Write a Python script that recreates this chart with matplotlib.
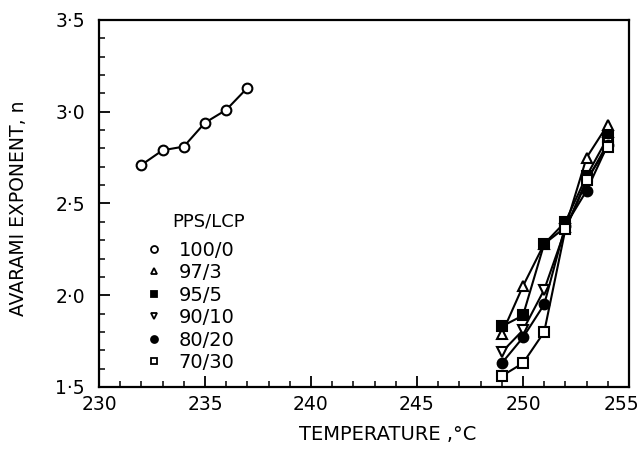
import matplotlib
matplotlib.use("Agg")
import matplotlib.pyplot as plt
from matplotlib.ticker import MultipleLocator, FuncFormatter
from matplotlib.lines import Line2D
from matplotlib.transforms import ScaledTranslation

# ---- data ----
temp_pure = [232, 233, 234, 235, 236, 237]
n_100_0 = [2.71, 2.79, 2.81, 2.94, 3.01, 3.13]

temp_blend = [249, 250, 251, 252, 253, 254]
n_97_3 = [1.79, 2.05, 2.28, 2.37, 2.75, 2.93]
n_95_5 = [1.83, 1.89, 2.28, 2.40, 2.65, 2.86]
n_90_10 = [1.69, 1.81, 2.03, 2.36, 2.62, 2.83]
n_80_20 = [1.63, 1.77, 1.95, 2.38, 2.57, 2.82]
n_70_30 = [1.56, 1.63, 1.80, 2.36, 2.63, 2.81]

labels = ["100/0", "97/3", "95/5", "90/10", "80/20", "70/30"]
markers = ["o", "^", "s", "v", "o", "s"]
filled = [False, False, True, False, True, False]

xticks = [230, 235, 240, 245, 250, 255]
yticks = [1.5, 2.0, 2.5, 3.0, 3.5]

plt.rcParams['font.family'] = ['DejaVu Sans']

fig = plt.figure(figsize=(6.44, 4.5), dpi=100)
ax = fig.add_axes([0.1537, 0.14, 0.823, 0.8156])

series = [(temp_pure, n_100_0)] + [(temp_blend, s) for s in
                                     [n_97_3, n_95_5, n_90_10, n_80_20, n_70_30]]
handles = []
for (xs, ys), lab, m, f in zip(series, labels, markers, filled):
    fc = 'black' if f else 'white'
    ax.plot(xs, ys, color='black', lw=1.5, marker=m, markersize=7,
            markerfacecolor=fc, markeredgecolor='black', markeredgewidth=1.5,
            zorder=3)
    handles.append(Line2D([], [], linestyle='none', marker=m, markersize=5,
                          markerfacecolor=fc, markeredgecolor='black',
                          markeredgewidth=1.3, label=lab))

ax.set_xlim(230, 255)
ax.set_ylim(1.5, 3.5)
ax.set_xticks(xticks)
ax.set_yticks(yticks)
ax.xaxis.set_minor_locator(MultipleLocator(1))
ax.yaxis.set_minor_locator(MultipleLocator(0.1))
ax.yaxis.set_major_formatter(FuncFormatter(lambda v, p: f"{v:.1f}".replace('.', '·')))
ax.tick_params(which='major', direction='in', length=8, width=1.3, labelsize=13.5)
ax.tick_params(which='minor', direction='in', length=4, width=1.1)
ax.tick_params(axis='y', pad=10)
ax.tick_params(axis='x', pad=6)
for sp in ax.spines.values():
    sp.set_linewidth(1.6)

ax.set_xlabel("TEMPERATURE ,°C", fontsize=14, labelpad=8, x=0.545)
ax.set_ylabel("AVARAMI EXPONENT, n", fontsize=13.5, labelpad=20, y=0.487)

# nudge the last x tick label so it stays inside the figure
fig.canvas.draw()
last = ax.get_xticklabels()[-1]
last.set_transform(last.get_transform() + ScaledTranslation(-8 / 100, 0, fig.dpi_scale_trans))

ax.text(0.138, 0.45, "PPS/LCP", transform=ax.transAxes, fontsize=13,
        ha='left', va='center')
ax.legend(handles=handles, loc='upper left', bbox_to_anchor=(0.07, 0.425),
          frameon=False, fontsize=14, handlelength=0.8, handletextpad=0.9,
          labelspacing=0.18, borderpad=0)

fig.savefig("out.png", dpi=100)
